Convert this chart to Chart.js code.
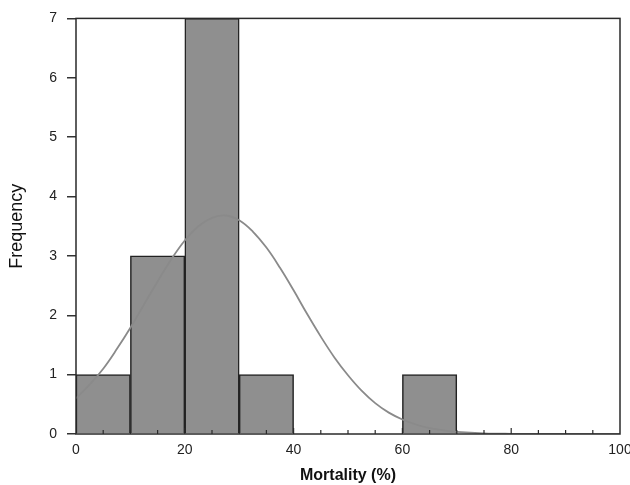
<!DOCTYPE html>
<html>
<head>
<meta charset="utf-8">
<script src="https://cdn.jsdelivr.net/npm/chart.js@4"></script>
<style>
  body { margin: 0; background: #fff; }
  #wrap { width: 630px; height: 485px; }
</style>
</head>
<body>
<div id="wrap"><canvas id="hist"></canvas></div>
<script>
// histogram bins (mortality %), bin width 10
const binCenters = [5, 15, 25, 35, 45, 55, 65, 75, 85, 95];
const binCounts = [1, 3, 7, 1, 0, 0, 1, 0, 0, 0];

// fitted normal curve
const curveX = [0, 2.5, 5, 7.5, 10, 12.5, 15, 17.5, 20, 22.5, 25, 27.5, 30, 32.5, 35, 37.5, 40, 42.5, 45, 47.5, 50, 52.5, 55, 57.5, 60, 62.5, 65, 67.5, 70, 75, 80, 85, 90, 95, 100];
const curveY = [0.60, 0.83, 1.10, 1.43, 1.79, 2.18, 2.57, 2.94, 3.26, 3.50, 3.64, 3.68, 3.60, 3.41, 3.14, 2.80, 2.42, 2.02, 1.64, 1.29, 0.99, 0.73, 0.52, 0.36, 0.245, 0.16, 0.10, 0.062, 0.037, 0.012, 0.003, 0, 0, 0, 0];

const xTicks = [0, 20, 40, 60, 80, 100];

const barData = binCenters
  .map((c, i) => ({ x: c, y: binCounts[i] }))
  .filter(d => d.y > 0);
const curveData = curveX.map((x, i) => ({ x: x, y: curveY[i] }));

// frame + small inward ticks every 5 on the x axis
const framePlugin = {
  id: "frame",
  afterDraw(chart) {
    const { ctx, chartArea: a, scales } = chart;
    ctx.save();
    ctx.strokeStyle = "#2a2a2a";
    ctx.lineWidth = 1.5;
    ctx.strokeRect(a.left, a.top, a.right - a.left, a.bottom - a.top);
    ctx.lineWidth = 1.2;
    for (let v = 5; v < 100; v += 5) {
      const px = scales.x.getPixelForValue(v);
      const len = v % 20 === 0 ? 6 : 4;
      ctx.beginPath();
      ctx.moveTo(px, a.bottom);
      ctx.lineTo(px, a.bottom - len);
      ctx.stroke();
    }
    ctx.restore();
  }
};

const ctx = document.getElementById("hist").getContext("2d");
new Chart(ctx, {
  data: {
    datasets: [
      {
        type: "line",
        data: curveData,
        borderColor: "#8a8a8a",
        borderWidth: 1.8,
        pointRadius: 0,
        tension: 0.4,
        fill: false,
        order: 0
      },
      {
        type: "bar",
        data: barData,
        backgroundColor: "#8f8f8f",
        borderColor: "#222",
        borderWidth: 1.5,
        barPercentage: 1,
        categoryPercentage: 1,
        grouped: false,
        order: 1
      }
    ]
  },
  plugins: [framePlugin],
  options: {
    responsive: true,
    maintainAspectRatio: false,
    animation: false,
    layout: { padding: { top: 15, right: 10, left: 0, bottom: 0 } },
    plugins: { legend: { display: false }, tooltip: { enabled: false } },
    scales: {
      x: {
        type: "linear",
        min: 0,
        max: 100,
        offset: false,
        afterBuildTicks: s => { s.ticks = xTicks.map(v => ({ value: v })); },
        afterFit: s => { s.height = 51; s.paddingRight = 0; s.paddingLeft = 0; },
        grid: { display: false, drawTicks: false, offset: false },
        border: { display: false },
        ticks: {
          color: "#222",
          padding: 8,
          font: { family: "Liberation Sans, Arial", size: 14 }
        },
        title: {
          display: true,
          text: "Mortality (%)",
          color: "#111",
          padding: { top: 1, bottom: 0 },
          font: { family: "Liberation Sans, Arial", size: 16, weight: "bold" }
        }
      },
      y: {
        min: 0,
        max: 7,
        afterFit: s => { s.width = 76; },
        grid: { drawOnChartArea: false, tickLength: 9, color: "#333", lineWidth: 1.5 },
        border: { display: false },
        ticks: {
          stepSize: 1,
          color: "#222",
          padding: 10,
          font: { family: "Liberation Sans, Arial", size: 14 }
        },
        title: {
          display: true,
          text: "Frequency",
          color: "#111",
          padding: { top: 6, bottom: 8 },
          font: { family: "Liberation Sans, Arial", size: 18 }
        }
      }
    }
  }
});
</script>
</body>
</html>
